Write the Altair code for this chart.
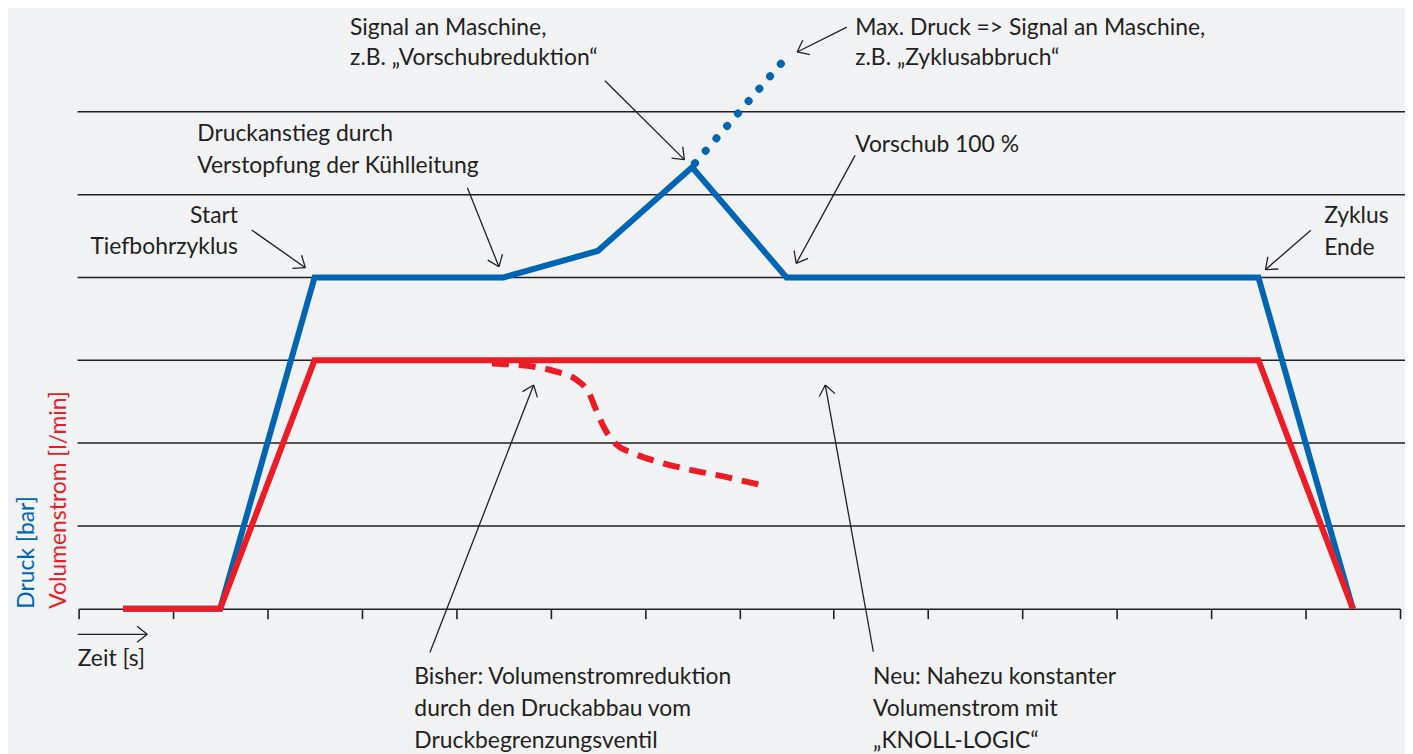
import math
import altair as alt
import pandas as pd

# ---------------- data (chart units: x = time ticks, y = grid steps) ----------------
blue_t = [0.47, 1.5, 2.5, 4.5, 5.5, 6.5, 7.5, 12.5, 13.5]
blue_v = [0, 0, 4, 4, 4.32, 5.33, 4, 4, 0]

red_t = [0.47, 1.5, 2.5, 12.5, 13.5]
red_v = [0, 0, 3, 3, 0]

red_dash_t = [4.38, 4.89, 5.07, 5.28, 5.40, 5.49, 5.58, 5.70, 5.87, 6.12, 6.47, 6.82, 7.24]
red_dash_v = [2.96, 2.91, 2.86, 2.76, 2.62, 2.38, 2.16, 1.98, 1.88, 1.78, 1.68, 1.60, 1.49]

blue_dot_t = [6.53, 7.44]
blue_dot_v = [5.38, 6.58]

grid_levels = [1, 2, 3, 4, 5, 6]
tick_values = list(range(0, 15))

# annotation arrows: start x, start y, tip x, tip y
arrow_x1 = [1.833, 4.119, 5.576, 8.140, 8.227, 13.055, 3.722, 8.420, -0.01]
arrow_y1 = [4.574, 5.082, 6.375, 7.023, 5.474, 4.570, -0.528, -0.520, -0.309]
arrow_x2 = [2.402, 4.453, 6.418, 7.613, 7.603, 12.574, 4.821, 7.911, 0.727]
arrow_y2 = [4.118, 4.130, 5.423, 6.723, 4.169, 4.094, 2.701, 2.701, -0.309]

# left-aligned annotation texts
lt_text = [
    "Signal an Maschine,", "z.B. \u201eVorschubreduktion\u201c",
    "Max. Druck => Signal an Maschine,", "z.B. \u201eZyklusabbruch\u201c",
    "Vorschub 100 %",
    "Druckanstieg durch", "Verstopfung der K\u00fchlleitung",
    "Zyklus", "Ende",
    "Bisher: Volumenstromreduktion", "durch den Druckabbau vom", "Druckbegrenzungsventil",
    "Neu: Nahezu konstanter", "Volumenstrom mit", "\u201eKNOLL-LOGIC\u201c",
    "Zeit [s]",
]
lt_x = [2.876, 2.876, 8.227, 8.227, 8.227, 1.257, 1.257, 13.196, 13.196,
        3.557, 3.557, 3.557, 8.417, 8.417, 8.417, -0.01]
lt_y = [6.933, 6.567, 6.933, 6.563, 5.514, 5.651, 5.262, 4.654, 4.274,
        -0.912, -1.300, -1.681, -0.912, -1.300, -1.681, -0.688]

# right-aligned annotation texts
rt_text = ["Start", "Tiefbohrzyklus"]
rt_x = [1.689, 1.689]
rt_y = [4.658, 4.282]

# ---------------- styling ----------------
BLUE = "#0065b3"
RED = "#ed1c24"
INK = "#231f20"
BG = "#f1f2f4"
FONT = "Lato"
FS = 23

W, H = 1329, 583
XMAX, YMAX = 14, 7
PX_X = W / XMAX
PX_Y = H / YMAX

xs = alt.Scale(domain=[0, XMAX], nice=False, zero=False)
ys = alt.Scale(domain=[0, YMAX], nice=False, zero=False)

blue_df = pd.DataFrame({"t": blue_t, "v": blue_v, "o": range(len(blue_t))})
red_df = pd.DataFrame({"t": red_t, "v": red_v, "o": range(len(red_t))})
rdash_df = pd.DataFrame({"t": red_dash_t, "v": red_dash_v, "o": range(len(red_dash_t))})
bdot_df = pd.DataFrame({"t": blue_dot_t, "v": blue_dot_v, "o": range(len(blue_dot_t))})
grid_df = pd.DataFrame({"g": grid_levels})

# arrow shafts + heads (heads derived from the shaft direction)
seg = []
L, A = 13.0, math.radians(38)
for x1, y1, x2, y2 in zip(arrow_x1, arrow_y1, arrow_x2, arrow_y2):
    seg.append({"x": x1, "y": y1, "x2": x2, "y2": y2})
    dxp = (x2 - x1) * PX_X
    dyp = (y2 - y1) * PX_Y
    th = math.atan2(dyp, dxp)
    for s in (-1, 1):
        ax = x2 - L * math.cos(th + s * A) / PX_X
        ay = y2 - L * math.sin(th + s * A) / PX_Y
        seg.append({"x": x2, "y": y2, "x2": ax, "y2": ay})
arrow_df = pd.DataFrame(seg)

lt_df = pd.DataFrame({"x": lt_x, "y": lt_y, "text": lt_text})
rt_df = pd.DataFrame({"x": rt_x, "y": rt_y, "text": rt_text})
ylab_df = pd.DataFrame({"x": [-0.474, -0.137], "y": [0, 0],
                        "text": ["Druck [bar]", "Volumenstrom [l/min]"],
                        "c": [BLUE, RED]})

axis_x = alt.Axis(values=tick_values, labels=False, ticks=True, tickSize=10,
                  tickColor=INK, tickWidth=1.6, domainColor=INK, domainWidth=1.6,
                  grid=False, title=None)

grid = alt.Chart(grid_df).mark_rule(color=INK, strokeWidth=1.5).encode(
    x=alt.value(-1), x2=alt.value(W + 5),
    y=alt.Y("g:Q", scale=ys, axis=None),
)

base_axis = alt.Chart(pd.DataFrame({"t": [0, XMAX]})).mark_point(opacity=0).encode(
    x=alt.X("t:Q", scale=xs, axis=axis_x),
    y=alt.value(H),
)

blue_line = alt.Chart(blue_df).mark_line(color=BLUE, strokeWidth=6, strokeJoin="miter").encode(
    x=alt.X("t:Q", scale=xs), y=alt.Y("v:Q", scale=ys), order="o:Q")
blue_dots = alt.Chart(bdot_df).mark_line(color=BLUE, strokeWidth=8, strokeCap="round",
                                         strokeDash=[0.1, 16.4]).encode(
    x=alt.X("t:Q", scale=xs), y=alt.Y("v:Q", scale=ys), order="o:Q")
red_line = alt.Chart(red_df).mark_line(color=RED, strokeWidth=6, strokeJoin="miter").encode(
    x=alt.X("t:Q", scale=xs), y=alt.Y("v:Q", scale=ys), order="o:Q")
red_dash = alt.Chart(rdash_df).mark_line(color=RED, strokeWidth=6, interpolate="monotone",
                                         strokeDash=[17, 10]).encode(
    x=alt.X("t:Q", scale=xs), y=alt.Y("v:Q", scale=ys), order="o:Q")

arrows = alt.Chart(arrow_df).mark_rule(color=INK, strokeWidth=1.3).encode(
    x=alt.X("x:Q", scale=xs), y=alt.Y("y:Q", scale=ys),
    x2="x2:Q", y2="y2:Q")

txt_l = alt.Chart(lt_df).mark_text(align="left", baseline="alphabetic", font=FONT,
                                   fontSize=FS, color=INK).encode(
    x=alt.X("x:Q", scale=xs), y=alt.Y("y:Q", scale=ys), text="text:N")
txt_r = alt.Chart(rt_df).mark_text(align="right", baseline="alphabetic", font=FONT,
                                   fontSize=FS, color=INK).encode(
    x=alt.X("x:Q", scale=xs), y=alt.Y("y:Q", scale=ys), text="text:N")
ylab = alt.Chart(ylab_df).mark_text(align="left", baseline="alphabetic", font=FONT,
                                    fontSize=FS, angle=270).encode(
    x=alt.X("x:Q", scale=xs), y=alt.Y("y:Q", scale=ys), text="text:N",
    color=alt.Color("c:N", scale=None))

chart = alt.layer(
    grid, base_axis, blue_line, blue_dots, red_dash, red_line, arrows, txt_l, txt_r, ylab
).properties(
    width=W, height=H, background=BG,
    padding={"left": 71, "top": 19, "right": 5, "bottom": 144},
    autosize=alt.AutoSizeParams(type="none"),
).configure_view(stroke=None)

chart.save("out.html", embed_options={"renderer": "svg", "actions": False})
